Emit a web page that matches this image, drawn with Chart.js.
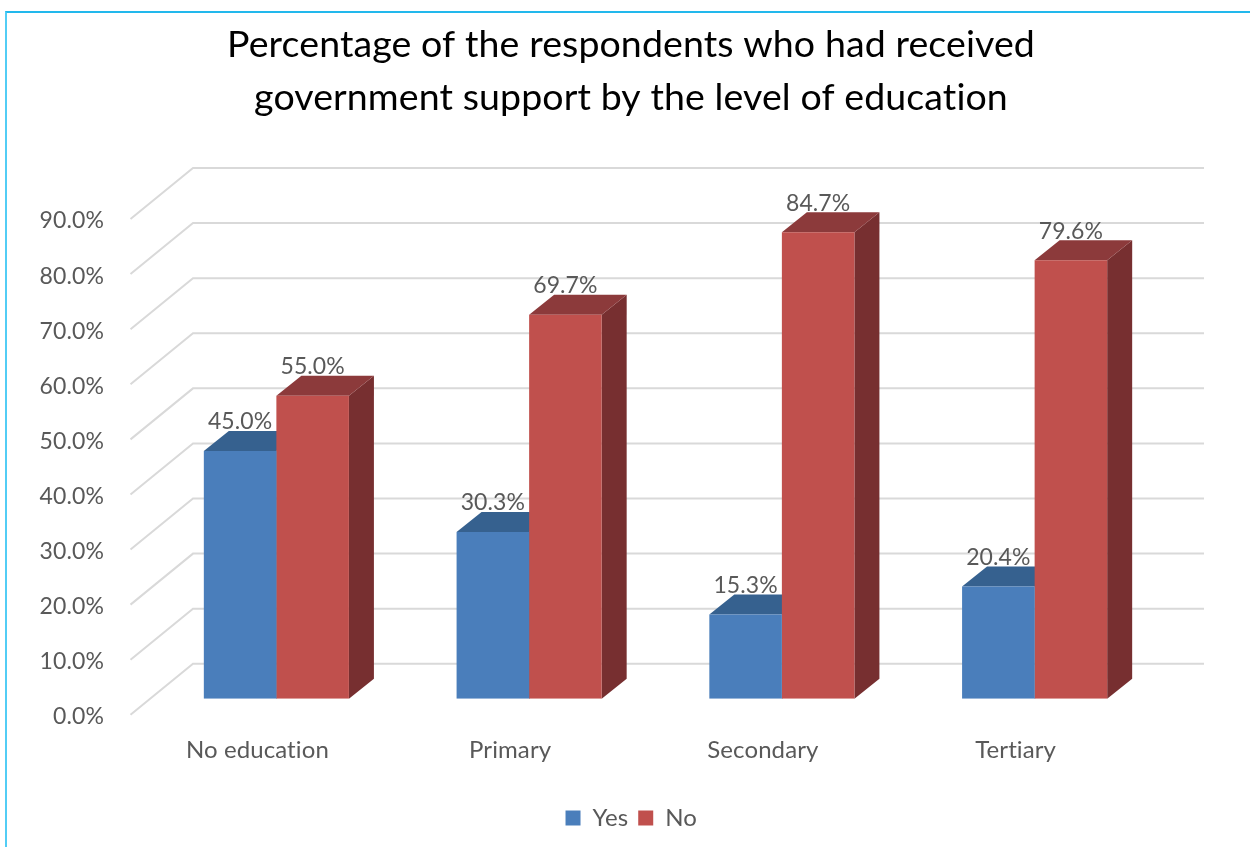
<!DOCTYPE html>
<html>
<head>
<meta charset="utf-8">
<title>Government support by level of education</title>
<script src="https://cdn.jsdelivr.net/npm/chart.js@4.4.1/dist/chart.umd.min.js"></script>
<style>
  html, body { margin: 0; padding: 0; background: #fff; overflow: hidden; }
  #frame {
    position: absolute; left: 5px; top: 11px; width: 1300px; height: 900px;
    border-top: 2px solid #22b8ec; border-left: 2px solid #52cdf5;
  }
  #wrap { position: absolute; left: 0; top: 0; width: 1250px; height: 847px; }
</style>
</head>
<body>
<div id="frame"></div>
<div id="wrap"><canvas id="eduChart" width="1250" height="847"></canvas></div>
<script>
// Données
const categories = ['No education', 'Primary', 'Secondary', 'Tertiary'];
const seriesNames = ['Yes', 'No'];
const yesValues = [45.0, 30.3, 15.3, 20.4];
const noValues = [55.0, 69.7, 84.7, 79.6];
const yTickValues = [0, 10, 20, 30, 40, 50, 60, 70, 80, 90];

const FONT = 'Lato, "Open Sans", sans-serif';
const TEXT_GRAY = '#595959';
const GRID_GRAY = '#d9d9d9';

// Profondeur 3D : barres, mur du fond, bord avant
const BAR_DEPTH = { dx: 25, dy: -20 };
const WALL_BACK = { dx: 43, dy: -35 };
const WALL_FRONT = { dx: -19.5, dy: 16 };

function fillPoly(ctx, pts) {
    ctx.beginPath();
    ctx.moveTo(pts[0][0], pts[0][1]);
    for (let i = 1; i < pts.length; i++) ctx.lineTo(pts[i][0], pts[i][1]);
    ctx.closePath();
    ctx.fill();
}

// Plugin : mur, faces supérieures / latérales, étiquettes de valeurs
const bars3d = {
    id: 'bars3d',
    beforeDraw(chart) {
        // un léger espacement évite les ligatures (« ti ») de Lato
        chart.ctx.letterSpacing = '0.1px';
    },
    beforeDatasetsDraw(chart) {
        const { ctx, chartArea: a, scales: { y } } = chart;
        ctx.save();
        ctx.strokeStyle = GRID_GRAY;
        ctx.lineWidth = 2;
        y.ticks.forEach(t => {
            const py = y.getPixelForValue(t.value);
            ctx.beginPath();
            ctx.moveTo(a.left + WALL_FRONT.dx, py + WALL_FRONT.dy);
            ctx.lineTo(a.left + WALL_BACK.dx, py + WALL_BACK.dy);
            ctx.lineTo(a.right + WALL_BACK.dx, py + WALL_BACK.dy);
            ctx.stroke();
        });

        chart.data.datasets.forEach((ds, i) => {
            chart.getDatasetMeta(i).data.forEach(bar => {
                const { x, y: top, base, width } = bar.getProps(['x', 'y', 'base', 'width'], true);
                const l = x - width / 2, r = x + width / 2;
                const { dx, dy } = BAR_DEPTH;
                ctx.fillStyle = ds.sideColor;
                fillPoly(ctx, [[r, top], [r + dx, top + dy], [r + dx, base + dy], [r, base]]);
                ctx.fillStyle = ds.topColor;
                fillPoly(ctx, [[l, top], [r, top], [r + dx, top + dy], [l + dx, top + dy]]);
            });
        });
        ctx.restore();
    },
    afterDatasetsDraw(chart) {
        const { ctx } = chart;
        ctx.save();
        ctx.fillStyle = TEXT_GRAY;
        ctx.font = '23px ' + FONT;
        ctx.textAlign = 'center';
        ctx.textBaseline = 'middle';
        chart.data.datasets.forEach((ds, i) => {
            chart.getDatasetMeta(i).data.forEach((bar, j) => {
                const { x, y: top } = bar.getProps(['x', 'y'], true);
                ctx.fillText(ds.data[j].toFixed(1) + '%', x, top - 29);
            });
        });
        ctx.restore();
    }
};

const ctx = document.getElementById('eduChart').getContext('2d');

const eduChart = new Chart(ctx, {
    type: 'bar',
    data: {
        labels: categories,
        datasets: [
            {
                label: seriesNames[0],
                data: yesValues,
                backgroundColor: '#4a7ebb',
                topColor: '#36618f',
                sideColor: '#2f5580',
                borderWidth: 0,
                barPercentage: 1,
                categoryPercentage: 0.574
            },
            {
                label: seriesNames[1],
                data: noValues,
                backgroundColor: '#c0504d',
                topColor: '#8c3a3b',
                sideColor: '#772f30',
                borderWidth: 0,
                barPercentage: 1,
                categoryPercentage: 0.574
            }
        ]
    },
    options: {
        responsive: false,
        animation: false,
        layout: { padding: { top: 0, left: 12, right: 0, bottom: 7 } },
        plugins: {
            title: {
                display: true,
                text: ['Percentage of the respondents who had received',
                       'government support by the level of education'],
                color: '#000',
                font: { family: FONT, size: 37.5, weight: 'normal', lineHeight: '53px' },
                padding: { top: 18.5, bottom: 78.5 }
            },
            legend: {
                position: 'bottom',
                labels: {
                    color: TEXT_GRAY,
                    font: { family: FONT, size: 24 },
                    boxWidth: 15,
                    boxHeight: 15,
                    padding: 10
                }
            },
            tooltip: { enabled: false }
        },
        scales: {
            x: {
                grid: { display: false, drawTicks: false },
                border: { display: false },
                ticks: {
                    color: TEXT_GRAY,
                    font: { family: FONT, size: 24 },
                    padding: 37,
                    labelOffset: -19
                },
                afterFit: s => { s.height = 97.2; }
            },
            y: {
                min: 0,
                max: 90,
                afterBuildTicks: s => { s.ticks = yTickValues.map(v => ({ value: v })); },
                grid: { display: false, drawTicks: false },
                border: { display: false },
                ticks: {
                    color: TEXT_GRAY,
                    font: { family: FONT, size: 23 },
                    padding: 46,
                    labelOffset: 18,
                    callback: v => v.toFixed(1) + '%'
                },
                afterFit: s => { s.width = 138; }
            },
            // marge droite réservée au mur du fond
            yRight: {
                type: 'linear',
                position: 'right',
                grid: { display: false, drawTicks: false },
                border: { display: false },
                ticks: { display: false },
                afterFit: s => { s.width = 89; }
            }
        }
    },
    plugins: [bars3d]
});
</script>
</body>
</html>
